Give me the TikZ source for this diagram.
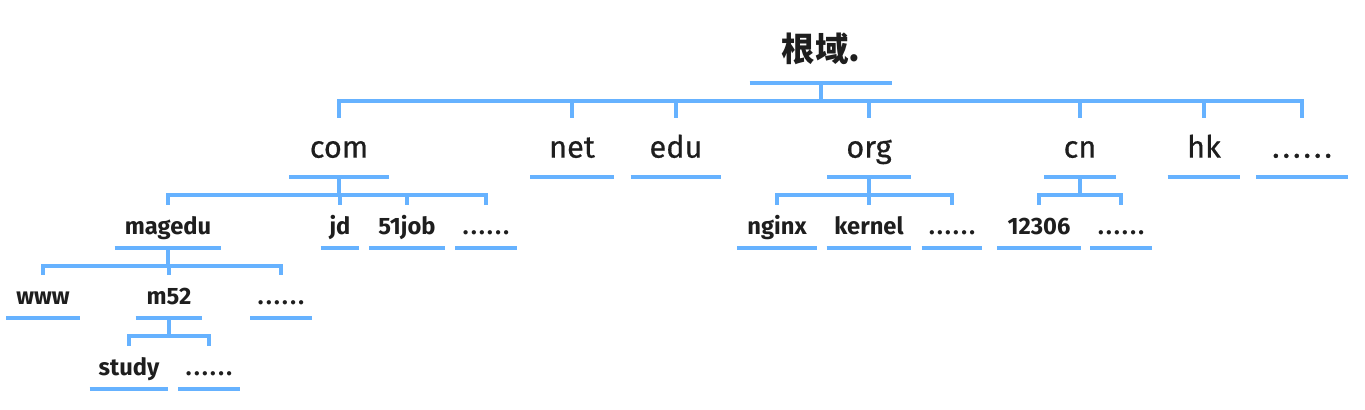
\documentclass[tikz,border=0pt]{standalone}
\usepackage{fontspec}
\setmainfont{Fira Sans}
\newfontfamily\cjk{Noto Sans CJK SC}
\definecolor{linkblue}{RGB}{102,178,255}
\definecolor{labelgray}{RGB}{30,30,30}
\newcommand\moredots{.\kern.1em.\kern.1em.\kern.1em.\kern.1em.\kern.1em.}

\begin{document}
\begin{tikzpicture}[x=0.02cm,y=-0.02cm]
\tikzset{link/.style={draw=linkblue,line width=2.2pt}}
\tikzset{dombox/.style={anchor=south,inner sep=0pt,text=labelgray,minimum width=#1*0.02cm,
  append after command={(\tikzlastnode.south west) edge[link] (\tikzlastnode.south east)}}}
\tikzset{rootbox/.style={dombox=#1,font=\cjk\bfseries\fontsize{19}{22}\selectfont,text depth=0.42cm}}
\tikzset{tldbox/.style={dombox=#1,font=\fontsize{17.5}{20}\selectfont\addfontfeature{FakeBold=0.6},text height=0.78cm,text depth=0.38cm}}
\tikzset{subbox/.style={dombox=#1,font=\fontsize{13.5}{15}\selectfont\bfseries,text height=0.57cm,text depth=0.27cm}}

\useasboundingbox (0,0) rectangle (1365,409);

\node[rootbox=142] (root) at (821,83) {根域.};

\node[tldbox=99] (com) at (339,177) {com};
\node[tldbox=83] (net) at (572,177) {net};
\node[tldbox=90] (edu) at (676,177) {edu};
\node[tldbox=83] (org) at (869,177) {org};
\node[tldbox=71] (cn) at (1080,177) {cn};
\node[tldbox=72] (hk) at (1204,177) {hk};
\node[tldbox=91] (tldmore) at (1302,177) {\moredots};

\node[subbox=106] (magedu) at (168,248) {magedu};
\node[subbox=38] (jd) at (340,248) {jd};
\node[subbox=75] (job51) at (407,248) {51job};
\node[subbox=61] (commore) at (486,248) {\moredots};
\node[subbox=79] (nginx) at (777,248) {nginx};
\node[subbox=84] (kernel) at (869,248) {kernel};
\node[subbox=60] (orgmore) at (952,248) {\moredots};
\node[subbox=83] (cn12306) at (1039,248) {12306};
\node[subbox=61] (cnmore) at (1121,248) {\moredots};

\node[subbox=73] (www) at (43,318) {www};
\node[subbox=66] (m52) at (169,318) {m52};
\node[subbox=61] (magedumore) at (281,318) {\moredots};

\node[subbox=78] (study) at (129,389) {study};
\node[subbox=61] (m52more) at (209,389) {\moredots};

\foreach \c in {com,net,edu,org,cn,hk,tldmore}
  \draw[link] (root.south) -- ++(0,18) -| (\c.north);
\foreach \c in {magedu,jd,job51,commore}
  \draw[link] (com.south) -- ++(0,18) -| (\c.north);
\foreach \c in {nginx,kernel,orgmore}
  \draw[link] (org.south) -- ++(0,18) -| (\c.north);
\foreach \c in {cn12306,cnmore}
  \draw[link] (cn.south) -- ++(0,18) -| (\c.north);
\foreach \c in {www,m52,magedumore}
  \draw[link] (magedu.south) -- ++(0,18) -| (\c.north);
\foreach \c in {study,m52more}
  \draw[link] (m52.south) -- ++(0,18) -| (\c.north);

\end{tikzpicture}
\end{document}
